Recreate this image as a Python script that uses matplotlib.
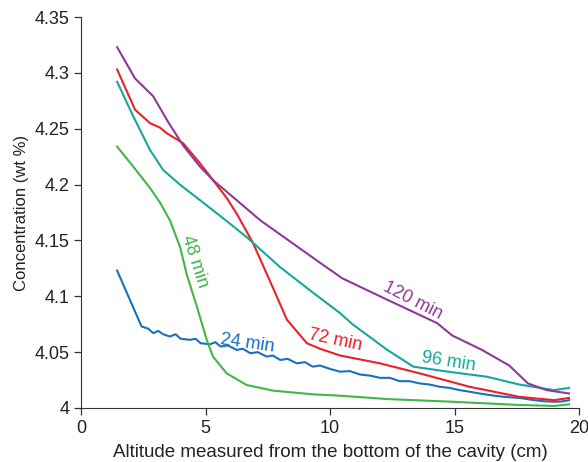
import matplotlib.pyplot as plt

plt.rcParams['font.family'] = ['Liberation Sans', 'DejaVu Sans']

# 24 min
x_24 = [1.45, 2.43, 2.7, 2.9, 3.1, 3.3, 3.57, 3.8, 4.0, 4.38, 4.6, 4.8, 5.18, 5.4, 5.6, 5.9, 6.25,
        6.5, 6.8, 7.1, 7.45, 7.7, 8.0, 8.3, 8.66, 9.0, 9.3, 9.6, 10.0, 10.4, 10.8, 11.2, 11.6,
        12.0, 12.4, 12.8, 13.2, 13.6, 14.0, 14.4, 14.8, 15.2, 15.6, 16.0, 16.6, 17.0, 17.6,
        18.2, 18.6, 19.0, 19.3, 19.6]
y_24 = [4.123, 4.073, 4.071, 4.067, 4.069, 4.066, 4.064, 4.066, 4.062, 4.061, 4.062, 4.058, 4.057,
        4.059, 4.055, 4.056, 4.052, 4.053, 4.049, 4.050, 4.046, 4.047, 4.043, 4.044, 4.040,
        4.041, 4.037, 4.038, 4.035, 4.0325, 4.033, 4.030, 4.029, 4.027, 4.027, 4.024, 4.024,
        4.022, 4.021, 4.019, 4.018, 4.016, 4.0146, 4.013, 4.011, 4.010, 4.009, 4.007, 4.006,
        4.0056, 4.0058, 4.007]

# 48 min
x_48 = [1.45, 2.1, 2.77, 3.17, 3.57, 3.98, 4.24, 4.65, 5.05, 5.3, 5.85, 6.65, 7.72, 9.33,
        10.4, 12.3, 14.9, 17.6, 19.0, 19.6]
y_48 = [4.234, 4.216, 4.197, 4.184, 4.168, 4.144, 4.120, 4.091, 4.061, 4.046, 4.031, 4.0206,
        4.0155, 4.0122, 4.011, 4.008, 4.0056, 4.0027, 4.0018, 4.0033]

# 72 min
x_72 = [1.45, 2.17, 2.77, 3.17, 3.44, 4.1, 4.78, 5.3, 5.85, 6.25, 6.9, 7.7, 8.27, 9.07, 9.6,
        10.4, 12.0, 13.6, 15.6, 17.6, 19.0, 19.6]
y_72 = [4.303, 4.267, 4.255, 4.251, 4.246, 4.237, 4.219, 4.204, 4.188, 4.174, 4.148, 4.108,
        4.079, 4.058, 4.053, 4.047, 4.040, 4.031, 4.019, 4.010, 4.007, 4.009]

# 96 min
x_96 = [1.45, 2.1, 2.77, 3.3, 3.97, 4.78, 5.7, 6.65, 8.0, 9.33, 10.4, 10.9, 12.3, 13.35, 14.9,
        16.3, 17.6, 19.0, 19.6]
y_96 = [4.292, 4.261, 4.231, 4.213, 4.200, 4.186, 4.170, 4.153, 4.126, 4.103, 4.085, 4.075,
        4.052, 4.037, 4.032, 4.028, 4.021, 4.016, 4.018]

# 120 min
x_120 = [1.45, 2.17, 2.9, 3.5, 4.1, 4.78, 5.3, 6.2, 7.2, 8.4, 9.6, 10.5, 12.1, 14.3, 14.9,
         16.1, 17.2, 17.95, 18.7, 19.6]
y_120 = [4.323, 4.295, 4.279, 4.256, 4.235, 4.216, 4.204, 4.187, 4.168, 4.149, 4.130, 4.116,
         4.099, 4.076, 4.065, 4.052, 4.038, 4.022, 4.016, 4.013]

series = [
    (x_24, y_24, '#1b6fc0', '24 min', 6.7, 4.058, -8),
    (x_48, y_48, '#41b649', '48 min', 4.58, 4.131, -72),
    (x_72, y_72, '#ea2228', '72 min', 10.2, 4.061, -12),
    (x_96, y_96, '#14a89c', '96 min', 14.75, 4.041, -9),
    (x_120, y_120, '#8e3a97', '120 min', 13.3, 4.096, -27),
]

fig = plt.figure(figsize=(5.88, 4.62), dpi=100)
ax = fig.add_axes([0.1378, 0.1169, 0.8469, 0.8463])

for xs, ys, color, label, lx, ly, rot in series:
    ax.plot(xs, ys, color=color, lw=1.5)
    ax.text(lx, ly, label, color=color, fontsize=13, rotation=rot,
            ha='center', va='center', rotation_mode='anchor')

ax.set_xlim(0, 20)
ax.set_ylim(4, 4.35)
ax.set_xticks([0, 5, 10, 15, 20])
ax.set_xticklabels(['0', '5', '10', '15', '20'])
ax.set_yticks([4, 4.05, 4.1, 4.15, 4.2, 4.25, 4.3, 4.35])
ax.set_yticklabels(['4', '4.05', '4.1', '4.15', '4.2', '4.25', '4.3', '4.35'])
ax.spines['top'].set_visible(False)
ax.spines['right'].set_visible(False)
ax.spines['left'].set_color('#333333')
ax.spines['bottom'].set_color('#333333')
ax.tick_params(direction='out', length=5, width=0.9, color='#333333', labelsize=13,
               labelcolor='#222222')
ax.set_xlabel('Altitude measured from the bottom of the cavity (cm)', fontsize=13.5,
              color='#222222', labelpad=5)
ax.set_ylabel('Concentration (wt %)', fontsize=12, color='#222222', labelpad=4)

fig.savefig('out.png', dpi=100)
